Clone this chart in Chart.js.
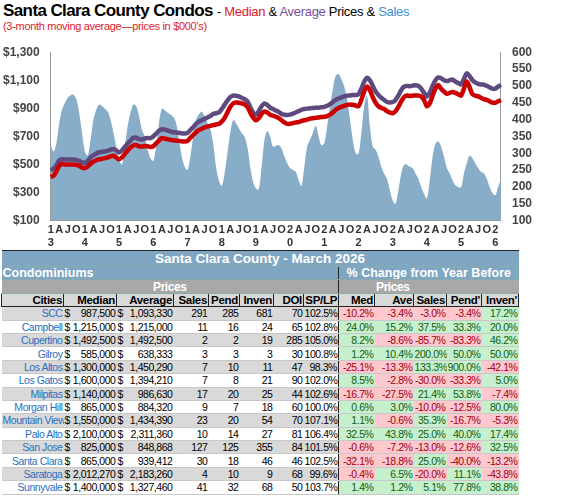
<!DOCTYPE html>
<html><head><meta charset="utf-8">
<script src="https://cdn.jsdelivr.net/npm/chart.js@4"></script>
<style>
body{margin:0;width:575px;height:501px;background:#fff;font-family:"Liberation Sans",Arial,sans-serif;position:relative;overflow:hidden}
#t1{position:absolute;left:3px;top:1px;font-size:17px;font-weight:bold;letter-spacing:-0.6px;white-space:nowrap}
#t1 span{font-size:13px;font-weight:normal;letter-spacing:-0.3px}
#t2{position:absolute;left:3px;top:20px;font-size:11px;color:#e0202a;letter-spacing:-0.3px}
#wrap{position:absolute;left:0;top:42px;width:535px;height:208px}
table{position:absolute;left:1px;top:250px;width:517px;border-collapse:collapse;font-family:"Liberation Sans",Arial,sans-serif;font-size:10.5px;letter-spacing:-0.45px;table-layout:fixed}
td{padding:0 1px;height:12.4px;line-height:12px;white-space:nowrap;overflow:hidden;border:1px solid #8aa;border-width:0 0 1px 0}
.blue td{background:#7fa6c2;color:#fff;font-weight:bold}
.gray td{background:#a8a8a8;color:#fff;font-weight:bold;text-align:center}
.hdr td{background:#d9d9d9;font-weight:bold;text-align:right;border:1px solid #222;font-size:11.5px;letter-spacing:-0.3px}
tr.r td{text-align:right;border-bottom:1px solid #c8c8c8}
tr.r td.c{color:#2a6fc0}
.neg{background:#ffc7ce!important;color:#a00010}
.pos{background:#c6efce!important;color:#106010}
.m{display:flex;justify-content:space-between}
</style></head><body>
<div id="t1">Santa Clara County Condos <span>- <b style="font-weight:normal;color:#e0202a">Median</b> &amp; <b style="font-weight:normal;color:#7a4fa0">Average</b> Prices &amp; <b style="font-weight:normal;color:#3d8fd0">Sales</b></span></div>
<div id="t2">(3-month moving average—prices in $000's)</div>
<div id="wrap"><canvas id="c"></canvas></div>
<table id="tb"></table>
<script>
const medianK = [
410,420,450,490,505,500,500,500,500,498,490,478,
474,485,505,520,530,537,540,545,550,558,562,550,
537,550,575,600,620,635,638,630,628,632,630,625,
630,650,670,688,685,680,675,672,670,668,665,663,
668,690,710,730,745,755,764,770,775,780,785,789,
805,830,870,910,935,941,940,935,928,910,870,835,
815,830,860,878,870,855,848,840,830,815,800,789,
790,795,800,802,810,815,820,827,830,832,835,838,
840,845,855,870,890,903,910,918,925,928,925,920,
915,960,1020,1055,1030,980,940,915,903,895,880,870,
865,880,910,950,980,991,988,990,992,991,985,960,
915,935,990,1040,1067,1040,1020,1004,1010,1017,1010,1000,
991,1040,1092,1050,1000,991,985,975,966,960,950,941,
940,950,959];
const averageK = [
461,470,495,530,537,537,535,535,535,533,525,515,
511,525,550,565,578,587,590,592,598,605,610,600,
585,600,625,650,670,690,690,680,678,685,688,688,
700,720,740,751,748,742,735,730,728,725,722,720,
725,745,765,790,805,815,825,835,845,860,865,870,
895,925,955,980,991,990,985,975,965,950,910,870,
855,880,915,935,925,905,895,885,875,860,855,852,
855,862,870,880,890,895,898,900,903,905,905,908,
910,918,930,945,960,970,978,985,990,992,995,995,
1000,1040,1090,1118,1100,1060,1020,995,975,960,945,941,
945,960,990,1030,1055,1060,1058,1062,1065,1060,1040,1010,
985,1010,1060,1100,1120,1115,1100,1095,1100,1105,1090,1080,
1070,1110,1150,1130,1100,1085,1075,1070,1068,1060,1050,1040,
1040,1055,1067];
const sales = [
324,305,330,390,430,450,465,472,474,460,420,360,
305,293,340,400,430,445,440,432,424,400,361,320,
280,266,320,380,420,445,440,410,370,350,310,285,
277,320,390,432,428,420,415,408,390,340,290,260,
250,290,350,400,415,424,410,390,372,330,260,220,
203,240,300,360,398,390,375,360,350,320,260,215,
195,193,260,340,366,350,319,322,324,315,290,270,
256,250,245,220,203,260,320,340,360,382,350,324,
330,380,440,490,530,535,520,498,460,400,340,300,
298,360,440,471,380,319,310,290,260,240,224,190,
160,150,190,240,266,266,260,256,240,224,200,180,
166,220,290,329,335,320,290,256,240,220,205,200,
198,240,270,293,285,270,255,245,240,225,200,182,
175,200,224];
const startYear = 2013;
const monthLabels = medianK.map((v,i)=>{
  const m=i%12, y=startYear+Math.floor(i/12);
  if(m===0) return [String(y).charAt(2)==='1'?'1':'2', String(y).slice(-1)];
  if(m===3) return ['A',''];
  if(m===6) return ['J',''];
  if(m===9) return ['O',''];
  return '';
});

const cities = ["SCC","Campbell","Cupertino","Gilroy","Los Altos","Los Gatos","Milpitas","Morgan Hill","Mountain View","Palo Alto","San Jose","Santa Clara","Saratoga","Sunnyvale"];
const median = ["987,500","1,215,000","1,492,500","585,000","1,300,000","1,600,000","1,140,000","865,000","1,550,000","2,100,000","825,000","865,000","2,012,270","1,400,000"];
const average = ["1,093,330","1,215,000","1,492,500","638,333","1,450,290","1,394,210","986,630","884,320","1,434,390","2,311,360","848,868","939,412","2,183,260","1,327,460"];
const citySales = [291,11,2,3,7,7,17,9,23,10,127,30,4,41];
const pend = [285,16,2,3,10,8,20,7,20,14,125,18,10,32];
const inven = [681,24,19,3,11,21,25,18,54,27,355,46,9,68];
const doi = [70,65,285,30,47,90,44,60,70,81,84,46,68,50];
const spLp = ["102.5%","102.8%","105.0%","100.8%","98.3%","102.0%","102.6%","100.0%","107.1%","106.4%","101.5%","102.5%","99.6%","103.7%"];
const chgMed = [-10.2,24.0,8.2,1.2,-25.1,8.5,-16.7,0.6,1.1,32.5,-0.6,-32.1,-0.4,1.4];
const chgAve = [-3.4,15.2,-8.6,10.4,-13.3,-2.8,-27.5,3.0,-0.6,43.8,-7.2,-18.8,6.5,1.2];
const chgSales = [-3.0,37.5,-85.7,200.0,133.3,-30.0,21.4,-10.0,35.3,25.0,-13.0,25.0,-20.0,5.1];
const chgPend = [-3.4,33.3,-83.3,50.0,900.0,-33.3,53.8,-12.5,-16.7,40.0,-12.6,-40.0,11.1,77.8];
const chgInven = [17.2,20.0,46.2,50.0,-42.1,5.0,-7.4,80.0,-5.3,17.4,32.5,-13.2,-43.8,38.8];

const tickFont = {family:'Liberation Sans', size:12, weight:'bold'};
new Chart(document.getElementById('c').getContext('2d'), {
  data: {
    labels: monthLabels,
    datasets: [
      {type:'line', label:'Median', data:medianK, yAxisID:'y', borderColor:'#cc0000', borderWidth:4.5, pointRadius:0, tension:0.3, order:1},
      {type:'line', label:'Average', data:averageK, yAxisID:'y', borderColor:'#5e4a7e', borderWidth:4.5, pointRadius:0, tension:0.3, order:2},
      {type:'line', label:'Sales', data:sales, yAxisID:'y2', borderColor:'rgba(0,0,0,0)', backgroundColor:'#87adc9', fill:'origin', pointRadius:0, tension:0.3, order:3}
    ]
  },
  options: {
    responsive:true, maintainAspectRatio:false, animation:false,
    layout:{padding:{top:6,right:0,left:0,bottom:0}},
    plugins:{legend:{display:false}, tooltip:{enabled:false}},
    scales:{
      x:{grid:{display:false, drawTicks:true, tickLength:3}, border:{color:'#999'},
         ticks:{autoSkip:false, maxRotation:0, minRotation:0, color:'#333', font:{family:'Liberation Sans', size:11, weight:'bold'}, padding:0}},
      y:{position:'left', min:100, max:1300, grid:{display:false}, border:{color:'#999'},
         ticks:{stepSize:200, autoSkip:false, color:'#444', font:tickFont, callback:v=>'$'+v.toLocaleString('en-US')}},
      y2:{position:'right', min:100, max:600, grid:{display:false}, border:{color:'#999'},
         ticks:{stepSize:50, autoSkip:false, color:'#444', font:tickFont}}
    }
  }
});

const widths=[62,53,57,35,31,34,30,35,36,39,33,35,37];
let h='<colgroup>'+widths.map(w=>`<col style="width:${w}px">`).join('')+'</colgroup>';
h+='<tr class="blue"><td colspan="13" style="text-align:center;font-size:13.5px;height:15px;border-top:1px solid #222;letter-spacing:0">Santa Clara County - March 2026</td></tr>';
h+='<tr class="blue"><td colspan="8" style="font-size:12.5px;border-right:1px solid #222;letter-spacing:0">Condominiums</td><td colspan="5" style="text-align:center;font-size:12.5px;letter-spacing:0">% Change from Year Before</td></tr>';
h+='<tr class="gray"><td colspan="8" style="border-right:1px solid #222;font-size:12px">Prices</td><td colspan="3" style="font-size:12px">Prices</td><td colspan="2"></td></tr>';
h+='<tr class="hdr">'+['Cities','Median','Average','Sales','Pend','Inven','DOI','SP/LP','Med','Ave','Sales',"Pend'","Inven'"].map(s=>`<td>${s}</td>`).join('')+'</tr>';
const pc=v=>`<td class="${v<0?'neg':'pos'}">${v.toFixed(1)}%</td>`;
cities.forEach((c,i)=>{
  const bg=i%2===0?'#d9d9d9':'#fff';
  h+=`<tr class="r" style="background:${bg}"><td class="c">${c}</td><td><div class="m"><span>$</span><span>${median[i]}</span></div></td><td><div class="m"><span>$</span><span>${average[i]}</span></div></td><td>${citySales[i]}</td><td>${pend[i]}</td><td>${inven[i]}</td><td>${doi[i]}</td><td style="border-right:1px solid #222">${spLp[i]}</td>${pc(chgMed[i])}${pc(chgAve[i])}${pc(chgSales[i])}${pc(chgPend[i])}${pc(chgInven[i])}</tr>`;
});
document.getElementById('tb').innerHTML=h;
</script>
</body></html>
